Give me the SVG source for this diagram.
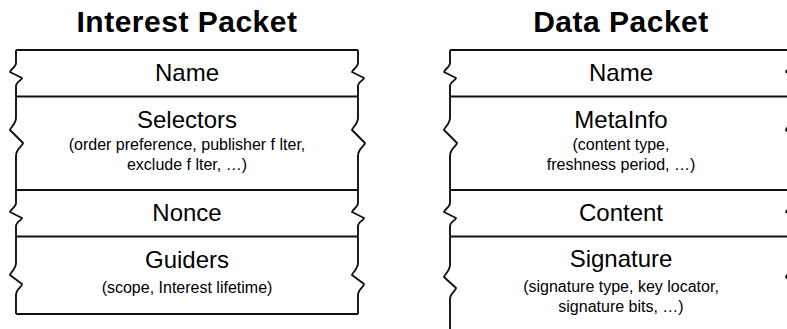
<svg xmlns="http://www.w3.org/2000/svg" width="787" height="329" viewBox="0 0 787 329">
<style>
.bg{fill:#ffffff}
.edge{fill:none;stroke:#111;stroke-width:1.9;stroke-linejoin:round}
.hl{stroke:#111;stroke-width:1.9}
.title{font-family:"Liberation Sans",Arial,sans-serif;font-weight:bold;font-size:30px;fill:#000;text-anchor:middle;letter-spacing:0.5px}
.lbl{font-family:"Liberation Sans",Arial,sans-serif;font-size:24px;fill:#000;text-anchor:middle}
.sub{font-family:"Liberation Sans",Arial,sans-serif;font-size:16px;fill:#000;text-anchor:middle}
</style>
<rect class="bg" x="0" y="0" width="787" height="329"/>
<g id="interest-title"><text class="title" x="187" y="32">Interest Packet</text></g>
<g id="data-title"><text class="title" x="621" y="32">Data Packet</text></g>

<g id="interest-name">
<line class="hl" x1="16" y1="50" x2="358" y2="50"/>
<path class="edge" d="M16,50 L16,63 C16,67 10,70 10,72 L22,78 C22,80 16,82 16,86 L16,96.5"/>
<path class="edge" d="M358,50 L358,63 C358,67 352,70 352,72 L364,78 C364,80 358,82 358,86 L358,96.5"/>
<text class="lbl" x="187" y="81">Name</text>
</g>
<g id="interest-selectors">
<line class="hl" x1="16" y1="96.5" x2="358" y2="96.5"/>
<path class="edge" d="M16,96.5 L16,118 C16,124 10,128 10,130 L23,143 C23,146 16,148 16,156 L16,190"/>
<path class="edge" d="M358,96.5 L358,118 C358,124 352,128 352,130 L365,143 C365,146 358,148 358,156 L358,190"/>
<text class="lbl" x="187" y="128">Selectors</text>
<text class="sub" x="187" y="150">(order preference, publisher f lter,</text>
<text class="sub" x="187" y="170">exclude f lter, …)</text>
</g>
<g id="interest-nonce">
<line class="hl" x1="16" y1="190" x2="358" y2="190"/>
<path class="edge" d="M16,190 L16,203 C16,207 10,210 10,212 L22,218 C22,220 16,222 16,226 L16,236.5"/>
<path class="edge" d="M358,190 L358,203 C358,207 352,210 352,212 L364,218 C364,220 358,222 358,226 L358,236.5"/>
<text class="lbl" x="187" y="221">Nonce</text>
</g>
<g id="interest-guiders">
<line class="hl" x1="16" y1="236.5" x2="358" y2="236.5"/>
<line class="hl" x1="16" y1="314" x2="358" y2="314"/>
<path class="edge" d="M16,236.5 L16,263 C16,269 10,273 10,275 L22,284 C22,287 16,289 16,295 L16,314"/>
<path class="edge" d="M358,236.5 L358,263 C358,269 352,273 352,275 L364,284 C364,287 358,289 358,295 L358,314"/>
<text class="lbl" x="187" y="268">Guiders</text>
<text class="sub" x="187" y="293">(scope, Interest lifetime)</text>
</g>

<g id="data-name">
<line class="hl" x1="450" y1="50" x2="792" y2="50"/>
<path class="edge" d="M450,50 L450,63 C450,67 444,70 444,72 L456,78 C456,80 450,82 450,86 L450,96.5"/>
<path class="edge" d="M792,50 L792,63 C792,67 786,70 786,72 L798,78 C798,80 792,82 792,86 L792,96.5"/>
<text class="lbl" x="621" y="81">Name</text>
</g>
<g id="data-metainfo">
<line class="hl" x1="450" y1="96.5" x2="792" y2="96.5"/>
<path class="edge" d="M450,96.5 L450,118 C450,124 444,128 444,130 L457,143 C457,146 450,148 450,156 L450,190"/>
<path class="edge" d="M792,96.5 L792,118 C792,124 786,128 786,130 L799,143 C799,146 792,148 792,156 L792,190"/>
<text class="lbl" x="621" y="128">MetaInfo</text>
<text class="sub" x="621" y="150">(content type,</text>
<text class="sub" x="621" y="170">freshness period, …)</text>
</g>
<g id="data-content">
<line class="hl" x1="450" y1="190" x2="792" y2="190"/>
<path class="edge" d="M450,190 L450,203 C450,207 444,210 444,212 L456,218 C456,220 450,222 450,226 L450,236.5"/>
<path class="edge" d="M792,190 L792,203 C792,207 786,210 786,212 L798,218 C798,220 792,222 792,226 L792,236.5"/>
<text class="lbl" x="621" y="221">Content</text>
</g>
<g id="data-signature">
<line class="hl" x1="450" y1="236.5" x2="792" y2="236.5"/>
<path class="edge" d="M450,236.5 L450,265 C450,271 444,275 444,277 L456,288 C456,291 450,293 450,299 L450,340"/>
<path class="edge" d="M792,236.5 L792,265 C792,271 786,275 786,277 L798,288 C798,291 792,293 792,299 L792,340"/>
<text class="lbl" x="621" y="267">Signature</text>
<text class="sub" x="621" y="291.5">(signature type, key locator,</text>
<text class="sub" x="621" y="311.5">signature bits, …)</text>
</g>
<g id="connectors"></g>
</svg>
